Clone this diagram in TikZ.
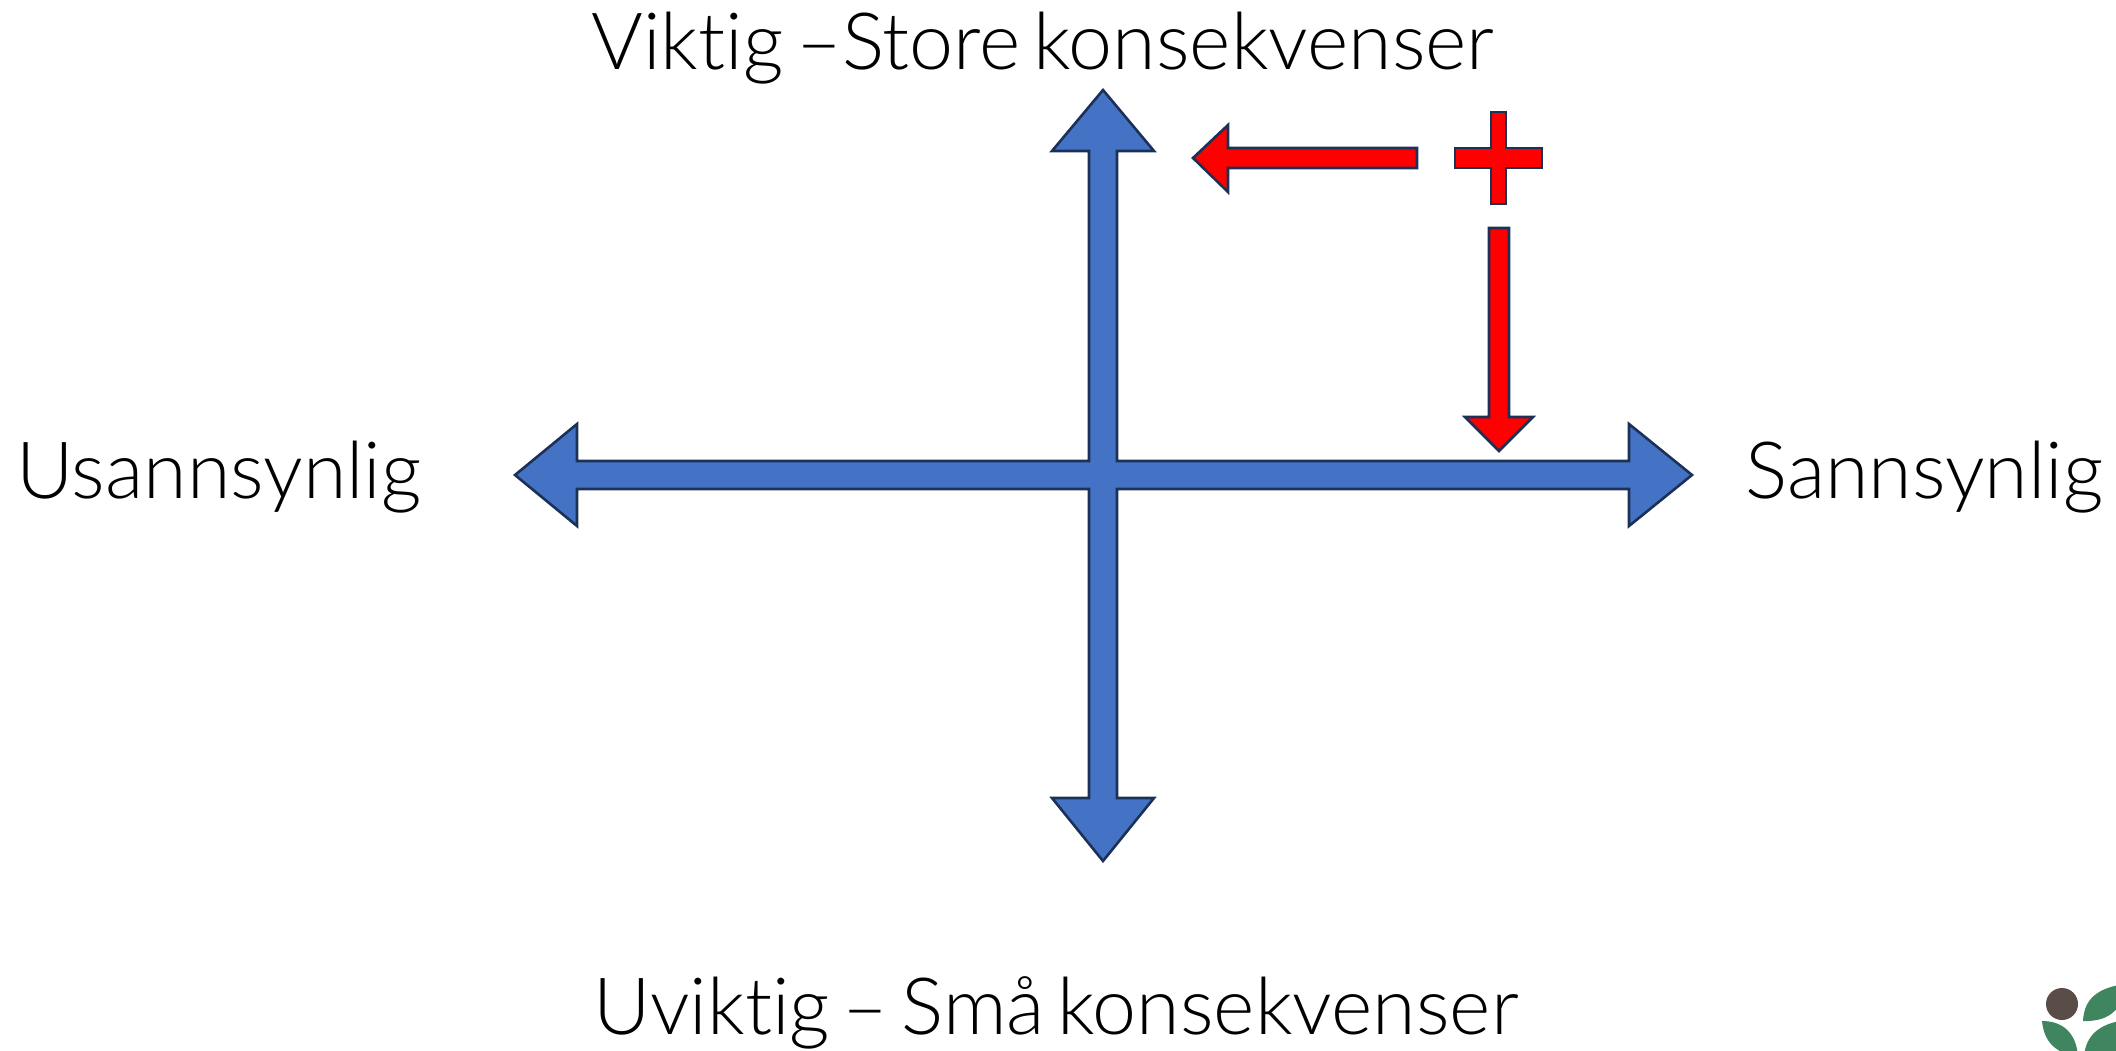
\documentclass[tikz,border=0pt]{standalone}
\usepackage{fontspec}
\setmainfont[Ligatures=NoCommon,WordSpace=0.6]{Lato Light}
\tikzset{
  label/.style={font=\fontsize{39.5}{44}\selectfont, inner sep=0pt, anchor=base west},
  bluearrow/.style={draw=arrowline, fill=axisblue, line width=1.3pt, miter limit=10},
  redarrow/.style={draw=arrowline, fill=red, line width=1.3pt, miter limit=10},
  leaf/.style={fill=leafgreen, draw=none}
}
\definecolor{axisblue}{HTML}{4472C4}
\definecolor{arrowline}{HTML}{1C3157}
\definecolor{leafgreen}{HTML}{3F8560}
\definecolor{dotbrown}{HTML}{5A4D48}
\begin{document}
\begin{tikzpicture}[x=0.5pt,y=-0.5pt]
\useasboundingbox (0,0) rectangle (2116,1050);
\node[label] (top) at (591,69) {Viktig –Store konsekvenser};
\node[label] (bottom) at (593,1034) {Uviktig – Små konsekvenser};
\node[label] (left) at (16,498) {Usannsynlig};
\node[label] (right) at (1745,498) {Sannsynlig};
\draw[bluearrow] (1103,90) -- (1154,151) -- (1117,151) -- (1117,461) -- (1629,461) -- (1629,424) -- (1692,475)
  -- (1629,526) -- (1629,489) -- (1117,489) -- (1117,798) -- (1154,798) -- (1103,861) -- (1052,798)
  -- (1089,798) -- (1089,489) -- (577,489) -- (577,526) -- (515,475) -- (577,424) -- (577,461)
  -- (1089,461) -- (1089,151) -- (1052,151) -- cycle;
\draw[redarrow] (1417,148) -- (1228,148) -- (1228,125) -- (1193,158) -- (1228,192) -- (1228,168) -- (1417,168) -- cycle;
\draw[redarrow] (1491,112) -- (1506,112) -- (1506,148) -- (1542,148) -- (1542,168) -- (1506,168) -- (1506,204)
  -- (1491,204) -- (1491,168) -- (1455,168) -- (1455,148) -- (1491,148) -- cycle;
\draw[redarrow] (1489,228) -- (1509,228) -- (1509,417) -- (1533,417) -- (1499,451) -- (1465,417) -- (1489,417) -- cycle;
\clip (0,0) rectangle (2116,1050);
\fill[dotbrown] (2062,1004) circle (16);
\fill[leaf] (2083,1021) .. controls (2084,1000) and (2096,988) .. (2125,984) .. controls (2124,1006) and (2112,1022) .. cycle;
\fill[leaf] (2042,1021) .. controls (2062,1021) and (2076,1032) .. (2078,1056) .. controls (2056,1054) and (2044,1042) .. cycle;
\fill[leaf] (2084,1056) .. controls (2086,1036) and (2098,1024) .. (2125,1020) -- (2125,1056) -- cycle;
\end{tikzpicture}
\end{document}
